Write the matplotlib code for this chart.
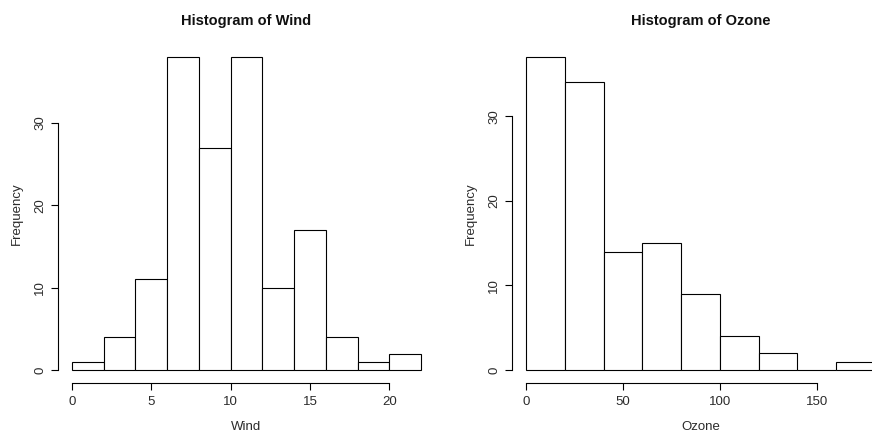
import numpy as np
import matplotlib
matplotlib.use("Agg")
import matplotlib.pyplot as plt

plt.rcParams['font.family'] = ['Liberation Sans', 'DejaVu Sans']

# Wind histogram
wind_edges = [0, 2, 4, 6, 8, 10, 12, 14, 16, 18, 20, 22]
wind_counts = [1, 4, 11, 38, 27, 38, 10, 17, 4, 1, 2]
wind_xticks = [0, 5, 10, 15, 20]
wind_yticks = [0, 10, 20, 30]

# Ozone histogram
ozone_edges = [0, 20, 40, 60, 80, 100, 120, 140, 160, 180]
ozone_counts = [37, 34, 14, 15, 9, 4, 2, 0, 1]
ozone_xticks = [0, 50, 100, 150]
ozone_yticks = [0, 10, 20, 30]

W, H = 872, 434
fig = plt.figure(figsize=(W / 100, H / 100), dpi=100)

def px_axes(x0, x1, top, bottom):
    return fig.add_axes([x0 / W, 1 - bottom / H, (x1 - x0) / W, (bottom - top) / H])

ax1 = px_axes(58, 435, 44.5, 382.5)
ax2 = px_axes(512, 889, 44.5, 382.5)

txt = '#2b2b2b'

def draw(ax, edges, counts, xticks, yticks, title, xlabel):
    edges = np.array(edges, dtype=float)
    counts = np.array(counts, dtype=float)
    ax.bar(edges[:-1], counts, width=np.diff(edges), align='edge',
           facecolor='white', edgecolor='black', linewidth=0.8)
    lo, hi = edges[0], edges[-1]
    r = hi - lo
    ax.set_xlim(lo - 0.04 * r, hi + 0.04 * r)
    ym = counts.max()
    ax.set_ylim(-0.04 * ym, ym * 1.04)
    for s in ['top', 'right']:
        ax.spines[s].set_visible(False)
    ax.spines['left'].set_bounds(yticks[0], yticks[-1])
    ax.spines['bottom'].set_bounds(xticks[0], xticks[-1])
    for s in ['left', 'bottom']:
        ax.spines[s].set_linewidth(0.8)
        ax.spines[s].set_color('black')
    ax.set_xticks(xticks)
    ax.set_yticks(yticks)
    ax.tick_params(axis='both', length=5, width=0.8, labelsize=9.5, colors=txt, pad=5)
    ax.tick_params(axis='y', labelrotation=90, pad=3.5, colors='black', labelcolor=txt)
    ax.tick_params(axis='x', colors='black', labelcolor=txt)
    for lab in ax.get_yticklabels():
        lab.set_va('center')
    ax.set_title(title, fontsize=10.5, fontweight='bold', pad=14, color='#111111')
    ax.set_xlabel(xlabel, fontsize=9.5, labelpad=9, color=txt)
    ax.set_ylabel('Frequency', fontsize=9.5, labelpad=8, color=txt)
    ax.set_facecolor('white')

draw(ax1, wind_edges, wind_counts, wind_xticks, wind_yticks, 'Histogram of Wind', 'Wind')
draw(ax2, ozone_edges, ozone_counts, ozone_xticks, ozone_yticks, 'Histogram of Ozone', 'Ozone')

fig.savefig('out.png', dpi=100, facecolor='white')
